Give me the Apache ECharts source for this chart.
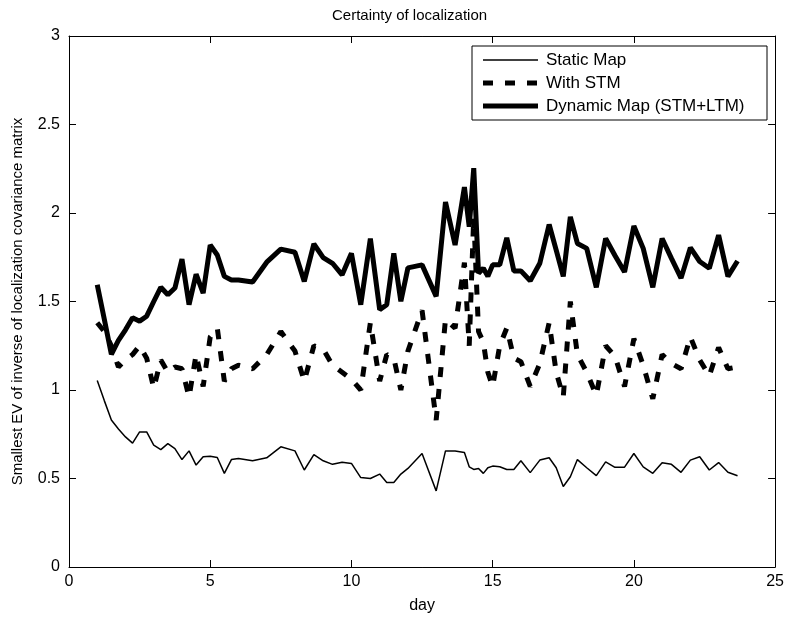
<!DOCTYPE html>
<html>
<head>
<meta charset="utf-8">
<script src="https://cdn.jsdelivr.net/npm/echarts@6/dist/echarts.min.js"></script>
<style>
html,body{margin:0;padding:0;background:#fff;}
#chart{width:787px;height:619px;}
</style>
</head>
<body>
<div id="chart"></div>
<script>
var days = [1,1.25,1.5,1.75, 2,2.25,2.5,2.75, 3,3.25,3.5,3.75, 4,4.25,4.5,4.75, 5,5.25,5.5,5.75,
  6,6.5, 7,7.5, 8,8.33,8.67, 9,9.33,9.67, 10,10.33,10.67, 11,11.25,11.5,11.75, 12,12.5,
  13,13.33,13.67, 14,14.17,14.33,14.5,14.67,14.83, 15,15.25,15.5,15.75, 16,16.33,16.67,
  17,17.25,17.5,17.75, 18,18.33,18.67, 19,19.33,19.67, 20,20.33,20.67, 21,21.33,21.67,
  22,22.33,22.67, 23,23.33,23.67];

var staticMap = [1.054,0.94,0.83,0.78, 0.735,0.70,0.763,0.763, 0.688,0.663,0.697,0.669, 0.607,0.656,0.576,0.623, 0.626,0.619,0.529,0.607,
  0.613,0.60, 0.617,0.679, 0.656,0.548,0.635, 0.60,0.58,0.592, 0.585,0.505,0.50, 0.525,0.477,0.477,0.525, 0.557,0.641,
  0.43,0.656,0.656, 0.647,0.566,0.551,0.557,0.529,0.561, 0.570,0.566,0.551,0.551, 0.60,0.533,0.604,
  0.617,0.561,0.455,0.51, 0.607,0.561,0.516, 0.594,0.563,0.564, 0.641,0.566,0.529, 0.589,0.58,0.535,
  0.604,0.623,0.548, 0.59,0.535,0.516];

var withSTM = [1.38,1.33,1.25,1.13, 1.17,1.2,1.25,1.18, 1.01,1.17,1.1,1.13, 1.12,0.96,1.2,1.02, 1.3,1.35,1.05,1.12,
  1.14,1.12, 1.2,1.33, 1.22,1.05,1.25, 1.23,1.14,1.1, 1.06,1.0,1.38, 1.05,1.2,1.18,1.0, 1.22,1.45,
  0.83,1.4,1.35, 1.72,1.25,1.98,1.33,1.27,1.1, 1.02,1.25,1.35,1.18, 1.16,1.02,1.15,
  1.38,1.1,0.96,1.5, 1.2,1.1,0.97, 1.25,1.19,1.02, 1.29,1.14,0.95, 1.2,1.15,1.12,
  1.3,1.17,1.08, 1.24,1.12,1.13];

var dynamicMap = [1.595,1.40,1.202,1.28, 1.34,1.408,1.389,1.417, 1.5,1.58,1.538,1.576, 1.74,1.482,1.654,1.547, 1.819,1.763,1.642,1.622,
  1.622,1.61, 1.722,1.796, 1.778,1.613,1.825, 1.748,1.716,1.651, 1.772,1.482,1.856, 1.454,1.482,1.772,1.501, 1.69,1.707,
  1.529,2.062,1.819, 2.146,1.922,2.253,1.66,1.688,1.642, 1.707,1.707,1.86,1.673, 1.673,1.617,1.716,
  1.935,1.79,1.642,1.978, 1.828,1.80,1.58, 1.856,1.76,1.666, 1.927,1.80,1.58, 1.856,1.744,1.632,
  1.804,1.726,1.688, 1.875,1.642,1.729];

var xTicks = [0,5,10,15,20,25];
var yTicks = [0,0.5,1,1.5,2,2.5,3];
var seriesNames = ['Static Map','With STM','Dynamic Map (STM+LTM)'];

function pairs(vals){ return days.map(function(d,i){ return [d, vals[i]]; }); }

var FONT = 'Liberation Sans, Arial, Helvetica, sans-serif';
var chart = echarts.init(document.getElementById('chart'), null, {renderer:'canvas'});

var styles = [
  {color:'#000', width:1.5, type:'solid'},
  {color:'#000', width:5, type:[10,12]},
  {color:'#000', width:5, type:'solid'}
];

var xBase = {type:'value', min:xTicks[0], max:xTicks[xTicks.length-1], interval:xTicks[1]-xTicks[0],
  splitLine:{show:false}, axisLine:{onZero:false, lineStyle:{color:'#000', width:1}},
  axisTick:{inside:true, length:7, lineStyle:{color:'#000'}}};
var yBase = {type:'value', min:yTicks[0], max:yTicks[yTicks.length-1], interval:yTicks[1]-yTicks[0],
  splitLine:{show:false}, axisLine:{onZero:false, lineStyle:{color:'#000', width:1}},
  axisTick:{inside:true, length:7, lineStyle:{color:'#000'}}};

// legend drawn as graphic
var legendGraphic = [{type:'rect', shape:{x:472, y:46, width:295, height:74},
    style:{fill:'#fff', stroke:'#000', lineWidth:1}, z:100}];
var rowY = [60, 83, 106];
seriesNames.forEach(function(n, i){
  var s = styles[i];
  legendGraphic.push({type:'line', z:101, shape:{x1:483, y1:rowY[i], x2:538, y2:rowY[i]},
    style:{stroke:s.color, lineWidth:s.width, lineDash: (s.type === 'solid' ? null : s.type)}});
  legendGraphic.push({type:'text', z:101, x:546, y:rowY[i],
    style:{text:n, fill:'#000', font:'17px ' + FONT, textVerticalAlign:'middle', verticalAlign:'middle'}});
});

chart.setOption({
  animation:false,
  backgroundColor:'#fff',
  textStyle:{fontFamily:FONT},
  title:{text:'Certainty of localization', left:327, top:3,
    textStyle:{fontSize:15, fontWeight:'normal', color:'#000', fontFamily:FONT}},
  grid:{left:69, right:10, top:36, bottom:48},
  xAxis:[
    Object.assign({}, xBase, {position:'bottom', name:'day', nameLocation:'middle', nameGap:31,
      nameTextStyle:{fontSize:16, color:'#000', fontFamily:FONT},
      axisLabel:{fontSize:16, color:'#000', margin:7, fontFamily:FONT}}),
    Object.assign({}, xBase, {position:'top', axisLabel:{show:false}})
  ],
  yAxis:[
    Object.assign({}, yBase, {position:'left', name:'Smallest EV of inverse of localization covariance matrix',
      nameLocation:'middle', nameGap:44,
      nameTextStyle:{fontSize:15, color:'#000', fontFamily:FONT},
      axisLabel:{fontSize:16, color:'#000', margin:9, fontFamily:FONT}}),
    Object.assign({}, yBase, {position:'right', axisLabel:{show:false}})
  ],
  graphic:legendGraphic,
  series:[
    {name:seriesNames[0], type:'line', data:pairs(staticMap), showSymbol:false, symbol:'none',
      lineStyle:styles[0], itemStyle:{color:'#000'}},
    {name:seriesNames[1], type:'line', data:pairs(withSTM), showSymbol:false, symbol:'none',
      lineStyle:styles[1], itemStyle:{color:'#000'}},
    {name:seriesNames[2], type:'line', data:pairs(dynamicMap), showSymbol:false, symbol:'none',
      lineStyle:styles[2], itemStyle:{color:'#000'}}
  ]
});
</script>
</body>
</html>
